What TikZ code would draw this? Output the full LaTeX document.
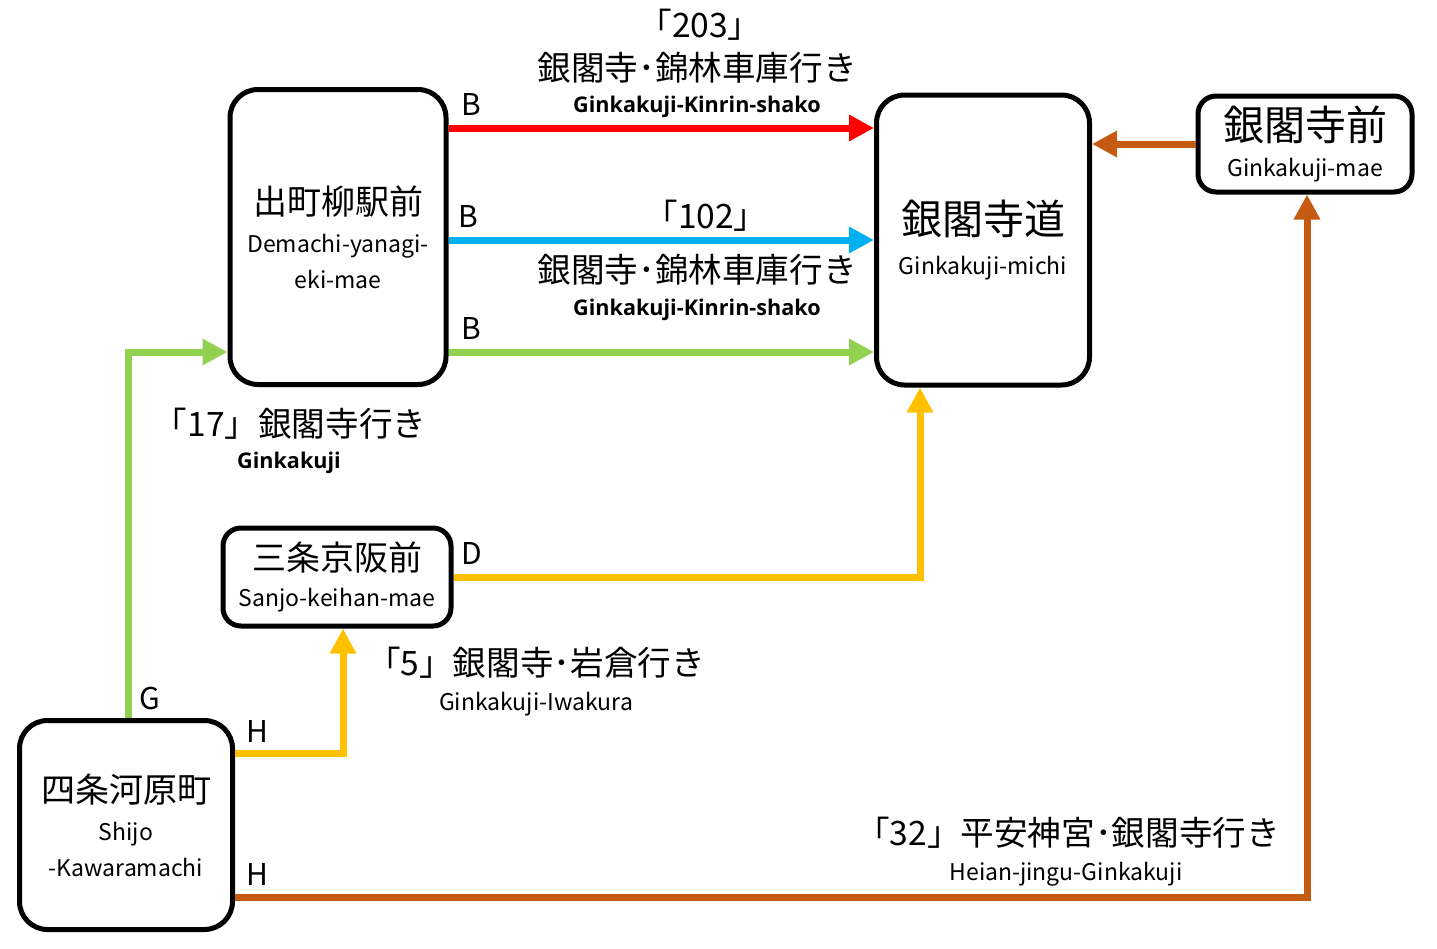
\documentclass[tikz,border=0pt]{standalone}
\usepackage{fontspec}
\setmainfont{Noto Sans CJK JP}
\newfontfamily\boldlat{Open Sans}
\usetikzlibrary{arrows.meta}

\definecolor{rtred}{RGB}{255,0,0}
\definecolor{rtblue}{RGB}{0,176,240}
\definecolor{rtgreen}{RGB}{146,208,80}
\definecolor{rtyellow}{RGB}{255,192,0}
\definecolor{rtbrown}{RGB}{197,90,17}

\newcommand{\romfont}{\fontsize{11.5}{18}\selectfont}
\newcommand{\stnfont}{\fontsize{17}{20}\selectfont}
\newcommand{\bigstnfont}{\fontsize{20.5}{24}\selectfont}

\begin{document}
\begin{tikzpicture}[x=0.5pt, y=-0.5pt,
  stn/.style={draw, line width=2.5pt, rounded corners=14pt, align=center, inner sep=0pt, font=\romfont},
  route/.style={line width=3.5pt, -{Triangle[length=12.5pt, width=12.5pt]}},
  jp/.style={font=\fontsize{16.8}{19}\selectfont},
  enb/.style={font=\boldlat\bfseries\fontsize{10.8}{12}\selectfont},
  en/.style={font=\romfont},
  stoplab/.style={font=\fontsize{15}{18}\selectfont, anchor=west, inner sep=0pt}]
\useasboundingbox (0,0) rectangle (1437,949);
% stations
\node[stn, minimum width=108pt, minimum height=147.5pt] (demachi) at (338,237)
  {{\stnfont 出町柳駅前}\\[1pt]Demachi-yanagi-\\eki-mae};
\node[stn, minimum width=106.5pt, minimum height=145pt] (michi) at (983,240)
  {{\bigstnfont 銀閣寺道}\\[2pt]Ginkakuji-michi};
\node[stn, rounded corners=9pt, minimum width=107pt, minimum height=48pt] (mae) at (1305,144)
  {{\bigstnfont 銀閣寺前}\\[0pt]Ginkakuji-mae};
\node[stn, rounded corners=9pt, minimum width=114pt, minimum height=49pt] (sanjo) at (337,577)
  {{\stnfont 三条京阪前}\\[0pt]Sanjo-keihan-mae};
\node[stn, minimum width=106.5pt, minimum height=104.5pt] (shijo) at (126,825)
  {{\stnfont 四条河原町}\\[1pt]Shijo\\-Kawaramachi};
% routes
\draw[route, rtred] (demachi.east |- 0,128) -- (michi.west |- 0,128);
\draw[route, rtblue] (demachi.east |- 0,240) -- (michi.west |- 0,240);
\draw[route, rtgreen] (demachi.east |- 0,352) -- (michi.west |- 0,352);
\draw[route, rtgreen] (shijo.north -| 128,0) |- (demachi.west |- 0,352);
\draw[route, rtyellow] (sanjo.east |- 0,577) -| (michi.south -| 920,0);
\draw[route, rtyellow] (shijo.east |- 0,753) -| (sanjo.south -| 343,0);
\draw[route, rtbrown] (shijo.east |- 0,897) -| (mae.south -| 1307,0);
\draw[route, rtbrown] (mae.west) -- (michi.east |- mae.west);
% stop letters
\node[stoplab] (b1) at (461,104) {B};
\node[stoplab] (b2) at (458,216) {B};
\node[stoplab] (b3) at (461,328) {B};
\node[stoplab] (d1) at (461,553) {D};
\node[stoplab] (g1) at (139,698) {G};
\node[stoplab] (h1) at (246,731) {H};
\node[stoplab] (h2) at (246,874) {H};
% route labels
\node[jp] (n203) at (700,25) {「203」};
\node[jp] (j203) at (697,68) {銀閣寺･錦林車庫行き};
\node[enb] (e203) at (697,107) {Ginkakuji-Kinrin-shako};
\node[jp] (n102) at (706,216) {「102」};
\node[jp] (j102) at (697,270) {銀閣寺･錦林車庫行き};
\node[enb] (e102) at (697,310) {Ginkakuji-Kinrin-shako};
\node[jp] (j17) at (290,424) {「17」銀閣寺行き};
\node[enb] (e17) at (289,463) {Ginkakuji};
\node[jp] (j5) at (536,663) {「5」銀閣寺･岩倉行き};
\node[en] (e5) at (536,704) {Ginkakuji-Iwakura};
\node[jp] (j32) at (1068,833) {「32」平安神宮･銀閣寺行き};
\node[en] (e32) at (1066,874) {Heian-jingu-Ginkakuji};
\end{tikzpicture}
\end{document}
